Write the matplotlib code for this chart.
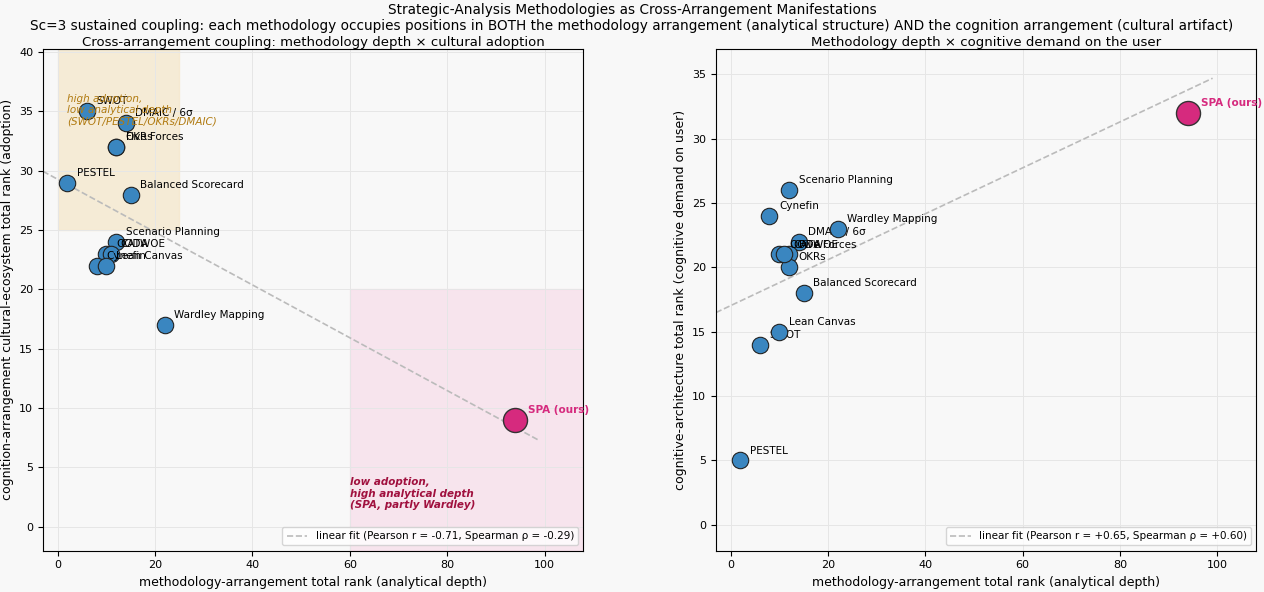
import numpy as np
import matplotlib.pyplot as plt

names = ["SWOT", "PESTEL", "DMAIC / 6σ", "Five Forces", "OKRs", "Balanced Scorecard",
         "Scenario Planning", "OODA", "CATWOE", "Cynefin", "Lean Canvas", "Wardley Mapping", "SPA (ours)"]
depth = np.array([6, 2, 14, 12, 12, 15, 12, 10, 11, 8, 10, 22, 94])
adoption = np.array([35, 29, 34, 32, 32, 28, 24, 23, 23, 22, 22, 17, 9])
demand = np.array([14, 5, 22, 21, 20, 18, 26, 21, 21, 24, 15, 23, 32])

plt.rcParams['font.family'] = ['DejaVu Sans']
fig, axes = plt.subplots(1, 2, figsize=(12.64, 5.92), dpi=100)
fig.patch.set_facecolor('#f8f8f8')
fig.suptitle("Strategic-Analysis Methodologies as Cross-Arrangement Manifestations\n"
             "Sc=3 sustained coupling: each methodology occupies positions in BOTH the methodology arrangement "
             "(analytical structure) AND the cognition arrangement (cultural artifact)", fontsize=9.8, y=0.995)

def panel(ax, y, title, ylabel, fitlab, ylim):
    ax.set_facecolor('#f8f8f8')
    ax.grid(True, color='#e6e6e6', lw=0.7)
    k, b = np.polyfit(depth, y, 1)
    xs = np.array([-3, 99])
    ax.plot(xs, k * xs + b, '--', color='#bbbbbb', lw=1.2, label=fitlab)
    for i, n in enumerate(names):
        if n.startswith("SPA"):
            ax.scatter(depth[i], y[i], s=300, color='#d62a7e', edgecolor='#333', lw=1, zorder=4)
            ax.annotate(n, (depth[i], y[i]), xytext=(9, 5), textcoords='offset points',
                        fontsize=7.5, color='#d62a7e', fontweight='bold')
        else:
            ax.scatter(depth[i], y[i], s=140, color='#3a86c0', edgecolor='#222', lw=0.8, zorder=3)
            ax.annotate(n, (depth[i], y[i]), xytext=(7, 5), textcoords='offset points', fontsize=7.5)
    ax.set_xlim(-3, 108)
    ax.set_ylim(*ylim)
    ax.set_title(title, fontsize=9.5, pad=2)
    ax.set_xlabel("methodology-arrangement total rank (analytical depth)", fontsize=9)
    ax.set_ylabel(ylabel, fontsize=9)
    ax.tick_params(labelsize=8)
    ax.legend(loc='lower right', fontsize=7.5)

ax = axes[0]
ax.axvspan(0, 25, ymin=(25 + 2) / 42.3, ymax=1, color='#f5e6c8', alpha=0.7, zorder=0)
ax.axvspan(60, 108, ymin=0, ymax=22 / 42.3, color='#f7d8e6', alpha=0.6, zorder=0)
panel(ax, adoption, "Cross-arrangement coupling: methodology depth × cultural adoption",
      "cognition-arrangement cultural-ecosystem total rank (adoption)",
      "linear fit (Pearson r = -0.71, Spearman ρ = -0.29)", (-2, 40.3))
ax.text(2, 36.5, "high adoption,\nlow analytical depth\n(SWOT/PESTEL/OKRs/DMAIC)", fontsize=7.5,
        style='italic', color='#b07a10', va='top')
ax.text(60, 4.2, "low adoption,\nhigh analytical depth\n(SPA, partly Wardley)", fontsize=7.5,
        style='italic', fontweight='bold', color='#a0103e', va='top')

panel(axes[1], demand, "Methodology depth × cognitive demand on the user",
      "cognitive-architecture total rank (cognitive demand on user)",
      "linear fit (Pearson r = +0.65, Spearman ρ = +0.60)", (-2, 37))

fig.subplots_adjust(left=0.034, right=0.994, top=0.918, bottom=0.07, wspace=0.245)
fig.savefig("out.png", facecolor=fig.get_facecolor())
